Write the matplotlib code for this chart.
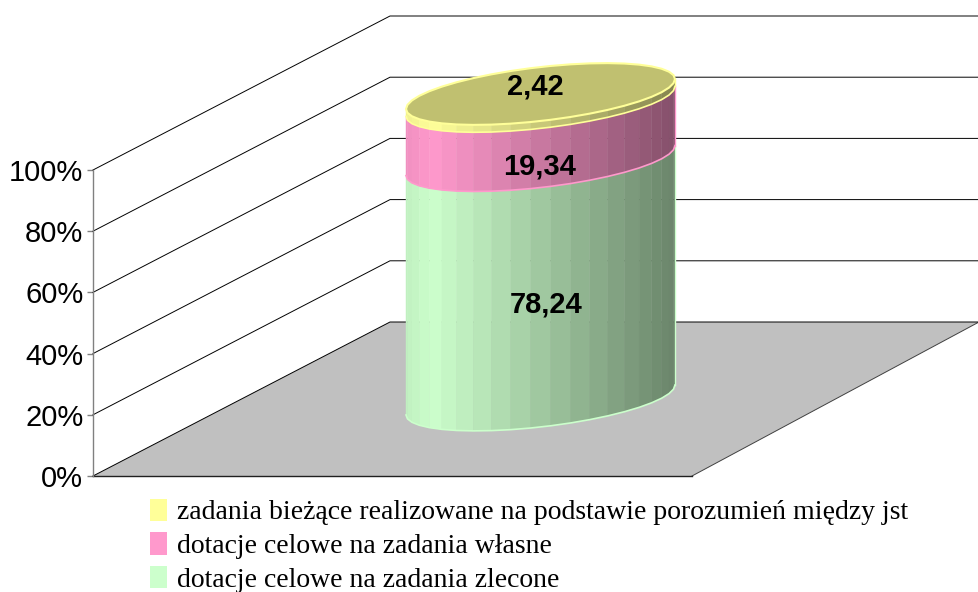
import matplotlib
matplotlib.use("Agg")
import matplotlib.pyplot as plt
from matplotlib.patches import Patch
import numpy as np

# wartosci
categories = ["dotacje celowe na zadania zlecone",
              "dotacje celowe na zadania własne",
              "zadania bieżące realizowane na podstawie porozumień między jst"]
values = [78.24, 19.34, 2.42]
value_labels = ["78,24", "19,34", "2,42"]
yticks = [0, 20, 40, 60, 80, 100]
ytick_labels = ["0%", "20%", "40%", "60%", "80%", "100%"]

colors = ["#CCFFCC", "#FF99CC", "#FFFF99"]
top_color = "#C0C070"

W, H = 979, 592
PX = 3.06  # pikseli na 1%
Y0 = 476

def ypct(py):  # piksel -> procent na osi y
    return (Y0 - py) / PX

def shade(hexcol, f):
    rgb = np.array(matplotlib.colors.to_rgb(hexcol))
    return tuple(rgb * f)

fig = plt.figure(figsize=(W / 100, H / 100), dpi=100)
ax = fig.add_axes([0, 0, 1, 1])
ax.set_xlim(0, W)
ax.set_ylim(ypct(H), ypct(0))
ax.patch.set_alpha(0)

# os y
for s in ["top", "right", "bottom"]:
    ax.spines[s].set_visible(False)
ax.spines["left"].set_position(("data", 93))
ax.spines["left"].set_bounds(0, 100)
ax.spines["left"].set_color("#808080")
ax.spines["left"].set_linewidth(1)
ax.set_xticks([])
ax.set_yticks(yticks)
ax.set_yticklabels(ytick_labels, fontsize=21, family="Liberation Sans", color="black")
ax.tick_params(axis="y", direction="out", length=4, width=1, color="#808080", pad=3)

# podloga i siatka
depth_x = 297
depth_y = 154 / PX
ax.fill([93, 692, 692 + 287, 93 + depth_x], [0, 0, depth_y, depth_y], color="#C0C0C0", lw=0, zorder=1)
ax.plot([692, 979], [0, depth_y], color="#404040", lw=0.7, zorder=2)
ax.plot([93, 692], [0, 0], color="#202020", lw=1, zorder=2)
for t in yticks:
    ax.plot([93, 93 + depth_x, W], [t, t + depth_y, t + depth_y], color="black", lw=0.7, zorder=2)

# walec
cx, a = 540.5, 134.5
base = ypct(400)
skew = 15 / PX
b = 27 / PX
n = 21
t = np.linspace(np.pi, 0, n + 1)  # przednia polowa, od lewej do prawej
ex = cx + a * np.cos(t)
ey = skew * np.cos(t) - b * np.sin(t)

def light(x):
    if x < 432:
        return 0.94 + 0.06 * (x - 406) / 26
    return 1 - 0.48 * (x - 432) / 243

bottom = base
for val, col in zip(values, colors):
    top = bottom + val
    for i in range(n):
        xs = [ex[i], ex[i + 1], ex[i + 1], ex[i]]
        ys = [bottom + ey[i], bottom + ey[i + 1], top + ey[i + 1], top + ey[i]]
        c = shade(col, light((ex[i] + ex[i + 1]) / 2))
        ax.fill(xs, ys, color=c, lw=0.3, zorder=3)
    ax.plot(ex, bottom + ey, color=col, lw=1.2, zorder=4)
    ax.plot([ex[-1], ex[-1]], [bottom + ey[-1], top + ey[-1]], color=col, lw=1, zorder=4)
    bottom = top

# gorna powierzchnia
tt = np.linspace(0, 2 * np.pi, 2 * n + 1)
tx = cx + a * np.cos(tt)
ty = bottom + skew * np.cos(tt) - b * np.sin(tt)
ax.fill(tx, ty, facecolor=top_color, edgecolor=colors[2], lw=1.5, zorder=5)

# etykiety
label_dy = [-24, -36, 11]
label_x = [546, 540, 535]
bottom = base
for val, txt, dy, lx in zip(values, value_labels, label_dy, label_x):
    ax.text(lx, bottom + val / 2 + dy / PX, txt, ha="center", va="center", fontsize=21,
            fontweight="bold", family="Liberation Sans", color="black", zorder=6)
    bottom += val

# legenda
handles = [Patch(facecolor=c, edgecolor="none", label=l) for c, l in zip(colors, categories)][::-1]
ax.legend(handles=handles, loc="upper left", bbox_to_anchor=(150 / W, 1 - 498.5 / H), frameon=False,
          prop={"family": "Liberation Serif", "size": 20}, handlelength=0.62, handleheight=0.85,
          handletextpad=0.36, labelspacing=0.26, borderpad=0, borderaxespad=0)

fig.savefig("out.png", dpi=100)
